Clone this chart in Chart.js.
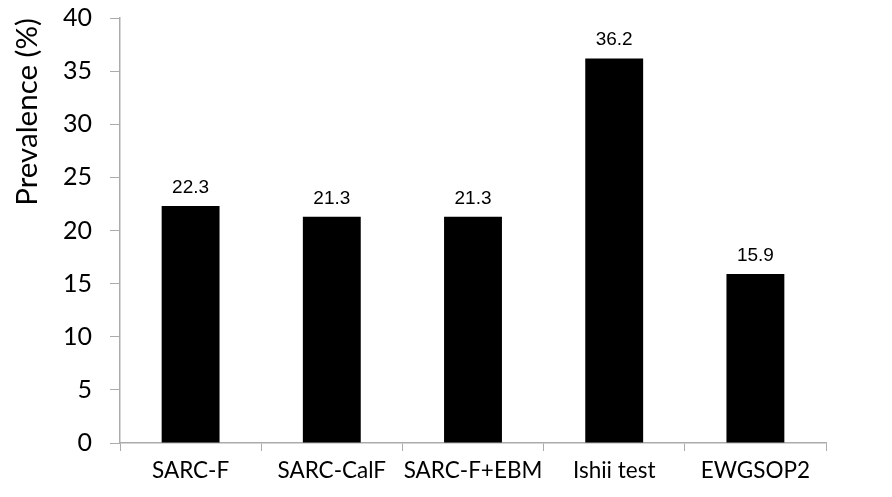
<!DOCTYPE html>
<html>
<head>
<meta charset="utf-8">
<script src="https://cdn.jsdelivr.net/npm/chart.js@4.4.0/dist/chart.umd.min.js"></script>
<style>
  html, body { margin: 0; padding: 0; background: #fff; }
  #wrap { width: 892px; height: 497px; }
</style>
</head>
<body>
<div id="wrap"><canvas id="prevChart" width="892" height="497"></canvas></div>
<script>
// Chart values
const categories = ['SARC-F', 'SARC-CalF', 'SARC-F+EBM', 'Ishii test', 'EWGSOP2'];
const prevalence = [22.3, 21.3, 21.3, 36.2, 15.9];
const yTicks = [0, 5, 10, 15, 20, 25, 30, 35, 40];

const axisGrey = '#ababab';

// Draws the value above each bar
const valueLabels = {
    id: 'valueLabels',
    afterDatasetsDraw(chart) {
        const ctx = chart.ctx;
        const meta = chart.getDatasetMeta(0);
        ctx.save();
        ctx.font = '19px "Liberation Sans", Arial, sans-serif';
        ctx.fillStyle = '#000';
        ctx.textAlign = 'center';
        ctx.textBaseline = 'alphabetic';
        meta.data.forEach((bar, i) => {
            ctx.fillText(prevalence[i].toFixed(1), bar.x, bar.y - 13);
        });
        ctx.restore();
    }
};

const ctx = document.getElementById('prevChart').getContext('2d');

new Chart(ctx, {
    type: 'bar',
    data: {
        labels: categories,
        datasets: [{
            data: prevalence,
            backgroundColor: '#000',
            borderWidth: 0,
            categoryPercentage: 1,
            barPercentage: 0.41,
        }],
    },
    options: {
        responsive: false,
        animation: false,
        layout: {
            padding: { top: 18, right: 66, left: 0, bottom: 0 },
        },
        plugins: {
            legend: { display: false },
            tooltip: { enabled: false },
        },
        scales: {
            x: {
                grid: {
                    display: true,
                    drawOnChartArea: false,
                    drawTicks: true,
                    tickLength: 8,
                    color: axisGrey,
                    offset: true,
                },
                border: { color: axisGrey, width: 1.5 },
                ticks: {
                    color: '#000',
                    font: { family: 'Lato, "Open Sans", sans-serif', size: 22.5 },
                    padding: 6,
                    maxRotation: 0,
                    autoSkip: false,
                },
                afterFit(scale) {
                    scale.height = 54;
                    scale.paddingLeft = 0;
                    scale.paddingRight = 0;
                },
            },
            y: {
                min: 0,
                max: 40,
                afterBuildTicks(scale) {
                    scale.ticks = yTicks.map(v => ({ value: v }));
                },
                grid: {
                    display: true,
                    drawOnChartArea: false,
                    drawTicks: true,
                    tickLength: 10,
                    color: axisGrey,
                },
                border: { color: axisGrey, width: 1.5 },
                ticks: {
                    color: '#000',
                    font: { family: 'Lato, "Open Sans", sans-serif', size: 25 },
                    padding: 18,
                },
                title: {
                    display: true,
                    text: 'Prevalence (%)',
                    align: 'end',
                    color: '#000',
                    font: { family: 'Lato, "Open Sans", sans-serif', size: 29.5 },
                    padding: { top: 10, bottom: 0 },
                },
                afterFit(scale) {
                    scale.width = 120;
                    scale.paddingTop = 0;
                    scale.paddingBottom = 0;
                },
            },
        },
    },
    plugins: [valueLabels],
});
</script>
</body>
</html>
